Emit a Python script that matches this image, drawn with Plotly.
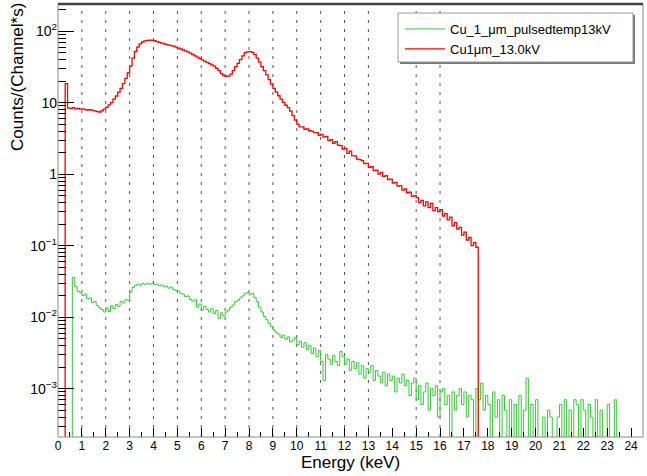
import plotly.graph_objects as go

# ---------------- data ----------------
bin_width = 0.1  # keV, bins start at 0.0

green_name = "Cu_1_μm_pulsedtemp13kV"
red_name = "Cu1μm_13.0kV"

red_counts = [
    0, 0, 0, 18.5, 8.4, 8.3, 8.5, 8.2, 8.3, 8.1,            # 0.0 - 0.9
    8.2, 8.0, 7.9, 8.0, 7.8, 7.7, 7.5, 7.4, 7.7, 8.1,        # 1.0 - 1.9
    8.6, 9.3, 10.0, 11.2, 12.4, 14.0, 15.8, 18.5, 21.8, 26.0,  # 2.0 - 2.9
    32.5, 42.0, 52.0, 60.0, 66.5, 70.5, 73.0, 74.5, 75.0, 74.5,  # 3.0 - 3.9
    73.5, 71.5, 69.5, 68.0, 66.5, 65.5, 64.0, 62.8, 61.7, 59.8,  # 4.0 - 4.9
    58.0, 56.3, 54.5, 52.9, 51.4, 49.3, 47.2, 45.2, 43.3, 41.5,  # 5.0 - 5.9
    39.8, 38.2, 36.6, 35.1, 33.7, 32.4, 30.3, 28.0, 25.5, 24.0,  # 6.0 - 6.9
    23.4, 23.5, 25.0, 28.0, 32.0, 35.4, 40.0, 45.0, 50.0, 51.5,  # 7.0 - 7.9
    51.6, 50.5, 47.0, 42.0, 37.0, 32.0, 28.0, 24.5, 21.0, 18.2,  # 8.0 - 8.9
    15.8, 14.0, 12.5, 11.2, 10.1, 9.2, 8.5, 7.6, 6.6, 5.7,      # 9.0 - 9.9
    5.0, 4.6, 4.6, 4.25, 4.3, 4.05, 4.0, 3.8, 3.8, 3.5,         # 10.0 - 10.9
    3.6, 3.3, 3.35, 2.95, 3.05, 2.7, 2.85, 2.55, 2.5, 2.25,     # 11.0 - 11.9
    2.3, 1.95, 2.1, 1.8, 1.8, 1.62, 1.6, 1.55, 1.4, 1.42,       # 12.0 - 12.9
    1.25, 1.27, 1.12, 1.14, 1.0, 1.06, 0.93, 0.95, 0.84, 0.85,  # 13.0 - 13.9
    0.75, 0.77, 0.68, 0.69, 0.60, 0.62, 0.55, 0.56, 0.49, 0.50, # 14.0 - 14.9
    0.47, 0.40, 0.43, 0.36, 0.41, 0.34, 0.39, 0.31, 0.34, 0.30, # 15.0 - 15.9
    0.32, 0.26, 0.28, 0.23, 0.25, 0.19, 0.21, 0.17, 0.18, 0.14, # 16.0 - 16.9
    0.155, 0.12, 0.13, 0.10, 0.11, 0.095, 0, 0,                 # 17.0 - 17.7
]

green_counts = [
    0, 0, 0, 0, 0, 0, 0.036, 0.027, 0.023, 0.022,                          # 0.0 - 0.9
    0.020, 0.021, 0.018, 0.0185, 0.016, 0.0165, 0.0145, 0.0135, 0.0128, 0.0118,  # 1.x
    0.0135, 0.012, 0.0145, 0.0132, 0.015, 0.0142, 0.0165, 0.0158, 0.0175, 0.0172,  # 2.x
    0.0225, 0.026, 0.0275, 0.029, 0.028, 0.0295, 0.0288, 0.0298, 0.029, 0.0295,   # 3.x
    0.0285, 0.029, 0.0275, 0.0282, 0.0268, 0.0272, 0.0255, 0.0262, 0.0245, 0.0236, # 4.x
    0.0232, 0.0215, 0.021, 0.0195, 0.0198, 0.0178, 0.0168, 0.0175, 0.0138, 0.0152, # 5.x
    0.0125, 0.0142, 0.0128, 0.0118, 0.0132, 0.0112, 0.0124, 0.0095, 0.0115, 0.0104, # 6.x
    0.0118, 0.0125, 0.0138, 0.0148, 0.0165, 0.0172, 0.0185, 0.0198, 0.0215, 0.022,  # 7.x
    0.0205, 0.0215, 0.0188, 0.0165, 0.0138, 0.0118, 0.0102, 0.0092, 0.0082, 0.0074, # 8.x
    0.0066, 0.0061, 0.0058, 0.0052, 0.0056, 0.0049, 0.0053, 0.0045, 0.0048, 0.0052, # 9.x
    0.0041, 0.0046, 0.0038, 0.0044, 0.0035, 0.0040, 0.0031, 0.0037, 0.0028, 0.0034, # 10.x
    0.0024, 0.0013, 0.0030, 0.0026, 0.0022, 0.0029, 0.0024, 0.0021, 0.0033, 0.0028, # 11.x
    0.0022, 0.0026, 0.0018, 0.0024, 0.0019, 0.0023, 0.0016, 0.0021, 0.0014, 0.0019, # 12.x
    0.0017, 0.0021, 0.0013, 0.0018, 0.0015, 0.0012, 0.0017, 0.0011, 0.0016, 0.0013, # 13.x
    0.0015, 0.0009, 0.0014, 0.0012, 0.0016, 0.0011, 0.0013, 0.0008, 0.0012, 0.0014, # 14.x
    0.0007, 0.0011, 0.0006, 0.0009, 0.0012, 0.0005, 0.0010, 0.0008, 0.0011, 0.0004, # 15.x
    0.0009, 0.0010, 0.0006, 0.0008, 0, 0.0009, 0.0005, 0.0008, 0.0010, 0.0006,      # 16.x
    0.0009, 0.0004, 0.0008, 0.0007, 0, 0.0010, 0.0007, 0.0012, 0.0005, 0.0008,      # 17.x
    0.0006, 0, 0.0009, 0.0004, 0.0007, 0, 0.0008, 0.0005, 0, 0.0007,               # 18.x
    0, 0.0006, 0, 0.0008, 0, 0.0005, 0.0014, 0, 0.0006, 0,                          # 19.x
    0.0007, 0, 0, 0.0004, 0, 0.0005, 0.0004, 0, 0, 0.0004,                          # 20.x
    0.0006, 0, 0.0007, 0, 0.0005, 0, 0.0007, 0.0006, 0, 0.0007,                     # 21.x
    0.0005, 0, 0.0006, 0.0004, 0, 0.0007, 0, 0.0005, 0, 0,                          # 22.x
    0.0006, 0, 0, 0.0007, 0, 0, 0, 0, 0, 0,                                         # 23.x
    0, 0, 0, 0, 0,                                                                  # 24.x
]

line_energies = [1, 2, 3, 4, 5, 6, 7, 8, 9, 10, 11, 12, 13, 15, 16]
x_tick_values = list(range(0, 25))
y_tick_values = [1e-3, 1e-2, 1e-1, 1, 10, 100]
y_tick_text = ["10<sup>−3</sup>", "10<sup>−2</sup>", "10<sup>−1</sup>", "1", "10", "10<sup>2</sup>"]
y_title = "Counts/(Channel*s)"
x_title = "Energy (keV)"

# ---------------- helpers ----------------
FLOOR = 1e-6  # empty bins drawn below the axis floor (log scale)


def step_xy(counts):
    xs = [i * bin_width for i in range(len(counts) + 1)]
    ys = [c if c > 0 else FLOOR for c in counts]
    ys = ys + [ys[-1]]
    return xs, ys


W, H = 647, 476
ML, MR, MT, MB = 58, 4, 4, 39
PW, PH = W - ML - MR, H - MT - MB


def px(xp):
    return (xp - ML) / PW


def py(yp):
    return (H - MB - yp) / PH


fig = go.Figure()
gx, gy = step_xy(green_counts)
rx, ry = step_xy(red_counts)
fig.add_trace(go.Scatter(x=gx, y=gy, mode="lines", line=dict(color="#33cc33", width=1, shape="hv"),
                         name=green_name))
fig.add_trace(go.Scatter(x=rx, y=ry, mode="lines", line=dict(color="#ff0000", width=1.3, shape="hv"),
                         name=red_name))

# dashed marker lines
for e in line_energies:
    fig.add_shape(type="line", xref="x", yref="paper", x0=e, x1=e, y0=0, y1=1,
                  line=dict(color="#555555", width=1, dash="3px,6px"), layer="below")

# frame
fig.add_shape(type="rect", xref="paper", yref="paper", x0=0, x1=1, y0=0, y1=1,
              line=dict(color="#8a8a8a", width=1), layer="above")
fig.add_shape(type="line", xref="paper", yref="paper", x0=0, x1=1, y0=1, y1=1,
              line=dict(color="#444444", width=2.5), layer="above")

# legend box with shadow
fig.add_shape(type="rect", xref="paper", yref="paper", x0=px(400), x1=px(635), y0=py(64), y1=py(15),
              line=dict(width=0), fillcolor="#777777", layer="above")
fig.add_shape(type="rect", xref="paper", yref="paper", x0=px(398), x1=px(633), y0=py(62), y1=py(13),
              line=dict(color="#999999", width=1), fillcolor="white", layer="above")

minor_y = [m * 10 ** d for d in range(-4, 3) for m in range(2, 10)]

fig.update_layout(
    width=W, height=H,
    margin=dict(l=ML, r=MR, t=MT, b=MB),
    paper_bgcolor="white", plot_bgcolor="white",
    font=dict(family="Liberation Sans, Arial, sans-serif", color="black"),
    showlegend=True,
    legend=dict(x=px(400), y=py(14), xanchor="left", yanchor="top",
                bgcolor="rgba(0,0,0,0)", borderwidth=0, itemwidth=40,
                font=dict(size=13, color="black"), tracegroupgap=0),
    xaxis=dict(range=[0, 24.5], tickmode="array", tickvals=x_tick_values,
               ticks="inside", ticklen=9, tickcolor="black", tickwidth=1,
               minor=dict(tickmode="linear", tick0=0, dtick=0.5, ticks="inside", ticklen=5, tickcolor="black"),
               showgrid=False, zeroline=False, showline=False,
               tickfont=dict(size=12),
               title=dict(text=x_title, font=dict(size=17), standoff=2)),
    yaxis=dict(type="log", range=[-3.676, 2.38], tickmode="array", tickvals=y_tick_values,
               ticktext=y_tick_text, ticks="inside", ticklen=16, tickcolor="black", tickwidth=1,
               minor=dict(tickmode="array", tickvals=minor_y, ticks="inside", ticklen=8, tickcolor="black"),
               showgrid=False, zeroline=False, showline=False,
               tickfont=dict(size=14)),
    annotations=[dict(text=y_title, xref="paper", yref="paper", x=px(17), y=py(1),
                      xanchor="center", yanchor="top", textangle=-90, showarrow=False,
                      font=dict(size=17))],
)

fig.write_html("out.html")
